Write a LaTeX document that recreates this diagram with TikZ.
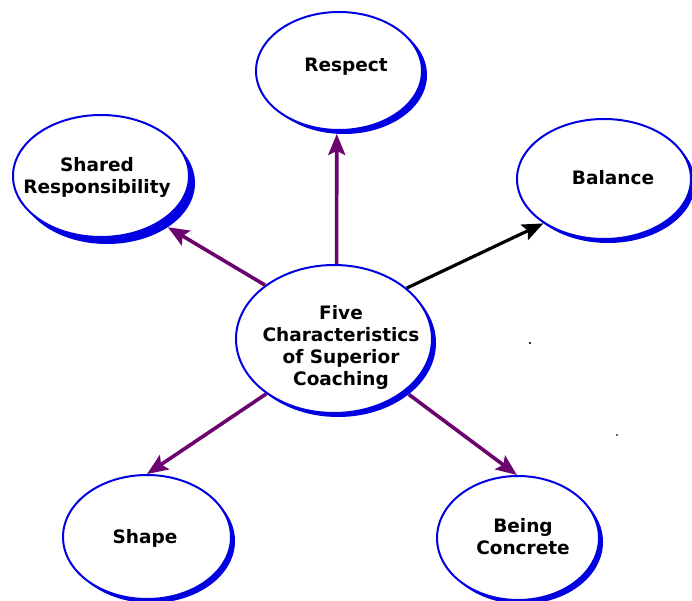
\documentclass[tikz,border=0pt]{standalone}
\usepackage{fontspec}
\setmainfont{DejaVu Sans}
\usetikzlibrary{shapes.geometric,arrows.meta}

\definecolor{rimblue}{RGB}{0,0,225}
\definecolor{linkpurple}{RGB}{108,4,112}

\tikzset{
  bubble/.style={ellipse, draw=rimblue, line width=2pt, fill=white,
    inner sep=0pt, minimum width=#1},
  rim/.style={ellipse, fill=rimblue, draw=none, inner sep=0pt, minimum width=#1},
  caption/.style={font=\fontsize{18.5}{22}\selectfont\bfseries, align=center,
    text=black, inner sep=0pt},
  link/.style={draw=linkpurple, line width=3.6pt,
    -{Stealth[length=21pt,width=17pt,inset=4pt]}},
  linkdark/.style={link, draw=black, line width=3.2pt},
}

\begin{document}
\begin{tikzpicture}[x=1pt,y=1pt]
\useasboundingbox (0,0) rectangle (692,600);

% thick blue rims behind each bubble (lower-right crescent)
\node[rim=166pt, minimum height=118pt] (rs)  at (344,525) {};
\node[rim=176pt, minimum height=122pt] (srs) at (107,417) {};
\node[rim=174pt, minimum height=120pt] (bs)  at (608,417) {};
\node[rim=196pt, minimum height=148pt] (cs)  at (338,257) {};
\node[rim=168pt, minimum height=124pt] (ss)  at (151,59) {};
\node[rim=162pt, minimum height=124pt] (bcs) at (522,58) {};

% the bubbles
\node[bubble=166pt, minimum height=118pt] (r)  at (339,529) {};
\node[bubble=176pt, minimum height=122pt] (sr) at (101,424) {};
\node[bubble=174pt, minimum height=120pt] (b)  at (604,421) {};
\node[bubble=196pt, minimum height=148pt] (c)  at (334,261) {};
\node[bubble=168pt, minimum height=124pt] (s)  at (147,63) {};
\node[bubble=162pt, minimum height=124pt] (bc) at (518,62) {};

% captions
\node[caption] (tr)  at (346,533) {Respect};
\node[caption] (tsr) at (97,423)  {Shared\\Responsibility};
\node[caption] (tb)  at (613,422) {Balance};
\node[caption] (tc)  at (341,253) {Five\\Characteristics\\of Superior\\Coaching};
\node[caption] (ts)  at (145,62)  {Shape};
\node[caption] (tbc) at (523,63)  {Being\\Concrete};

% links from the centre
\draw[link] (c.88) -- (rs.-97);
\draw[link] (c.142) -- (srs.-36);
\draw[linkdark] (c.35) -- (bs.-148);
\draw[link] (c.-141) -- (s.90);
\draw[link] (cs.-36) -- (bc.91);

% stray specks
\fill[black!80] (529,256) rectangle (531,258);
\fill[black!60] (616,164) rectangle (618,166);
\end{tikzpicture}
\end{document}
